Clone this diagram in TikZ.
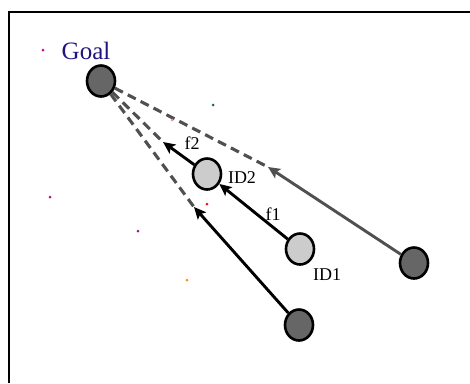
\documentclass[tikz,border=0pt]{standalone}
\usepackage{fontspec}
\setmainfont{Liberation Serif}
\usetikzlibrary{shapes.geometric,arrows.meta}
\definecolor{goalblue}{RGB}{30,20,130}
\definecolor{darkfill}{RGB}{102,102,102}
\definecolor{lightfill}{RGB}{204,204,204}
\definecolor{dashgray}{RGB}{80,80,80}
\begin{document}
\begin{tikzpicture}[x=1pt,y=-1pt,
  agent/.style={ellipse,draw=black,line width=2.6pt,minimum width=28pt,minimum height=31pt,inner sep=0pt},
  darkagent/.style={agent,fill=darkfill},
  lightagent/.style={agent,fill=lightfill},
  arr/.style={line width=2.9pt,-{Stealth[length=12pt,width=11pt,inset=2.5pt]}},
  dashline/.style={dashgray,line width=3.1pt,dash pattern=on 9pt off 5.5pt},
  lbl/.style={font=\fontsize{18}{18}\selectfont,inner sep=0pt},
  dot/.style={inner sep=0pt,minimum size=3pt,circle}]
\useasboundingbox (0,0) rectangle (470,383);
% frame
\draw[line width=2.6pt] (9,383) -- (9,12) -- (470,12);
% nodes
\node[darkagent] (goal) at (101,81) {};
\node[lightagent] (id2) at (207,174) {};
\node[lightagent] (id1) at (300,249) {};
\node[darkagent] (right) at (414,263) {};
\node[darkagent] (bottom) at (299,325) {};
% free ends
\coordinate (tipA) at (163,142);
\coordinate (tipB) at (194,207);
\coordinate (tipC) at (268,167);
% dashed lines
\draw[dashline] (goal) -- (tipC);
\draw[dashline] (goal) -- (tipA);
\draw[dashline] (goal) -- (tipB);
% arrows
\draw[arr] (id2) -- (tipA);
\draw[arr] (id1) -- (id2);
\draw[arr] (bottom) -- (tipB);
\draw[arr,dashgray] (right) -- (tipC);
% labels
\node[font=\fontsize{25}{25}\selectfont,text=goalblue,inner sep=0pt] (goaltxt) at (86,51) {Goal};
\node[lbl] (f2) at (192,143) {f2};
\node[lbl] (id2t) at (242,178) {ID2};
\node[lbl] (f1) at (273,214) {f1};
\node[lbl] (id1t) at (327,275) {ID1};
% stray dots
\node[dot,fill={rgb,255:red,200;green,0;blue,150}] (d1) at (43,50) {};
\node[dot,fill={rgb,255:red,170;green,20;blue,140}] (d2) at (50,197) {};
\node[dot,fill={rgb,255:red,150;green,30;blue,130}] (d3) at (138,231) {};
\node[dot,fill={rgb,255:red,255;green,140;blue,20}] (d4) at (187,280) {};
\node[dot,fill={rgb,255:red,240;green,20;blue,20}] (d5) at (207,204) {};
\node[dot,fill={rgb,255:red,240;green,140;blue,180}] (d6) at (172,120) {};
\node[dot,fill={rgb,255:red,30;green,110;blue,50}] (d7) at (213,105) {};
\end{tikzpicture}
\end{document}
